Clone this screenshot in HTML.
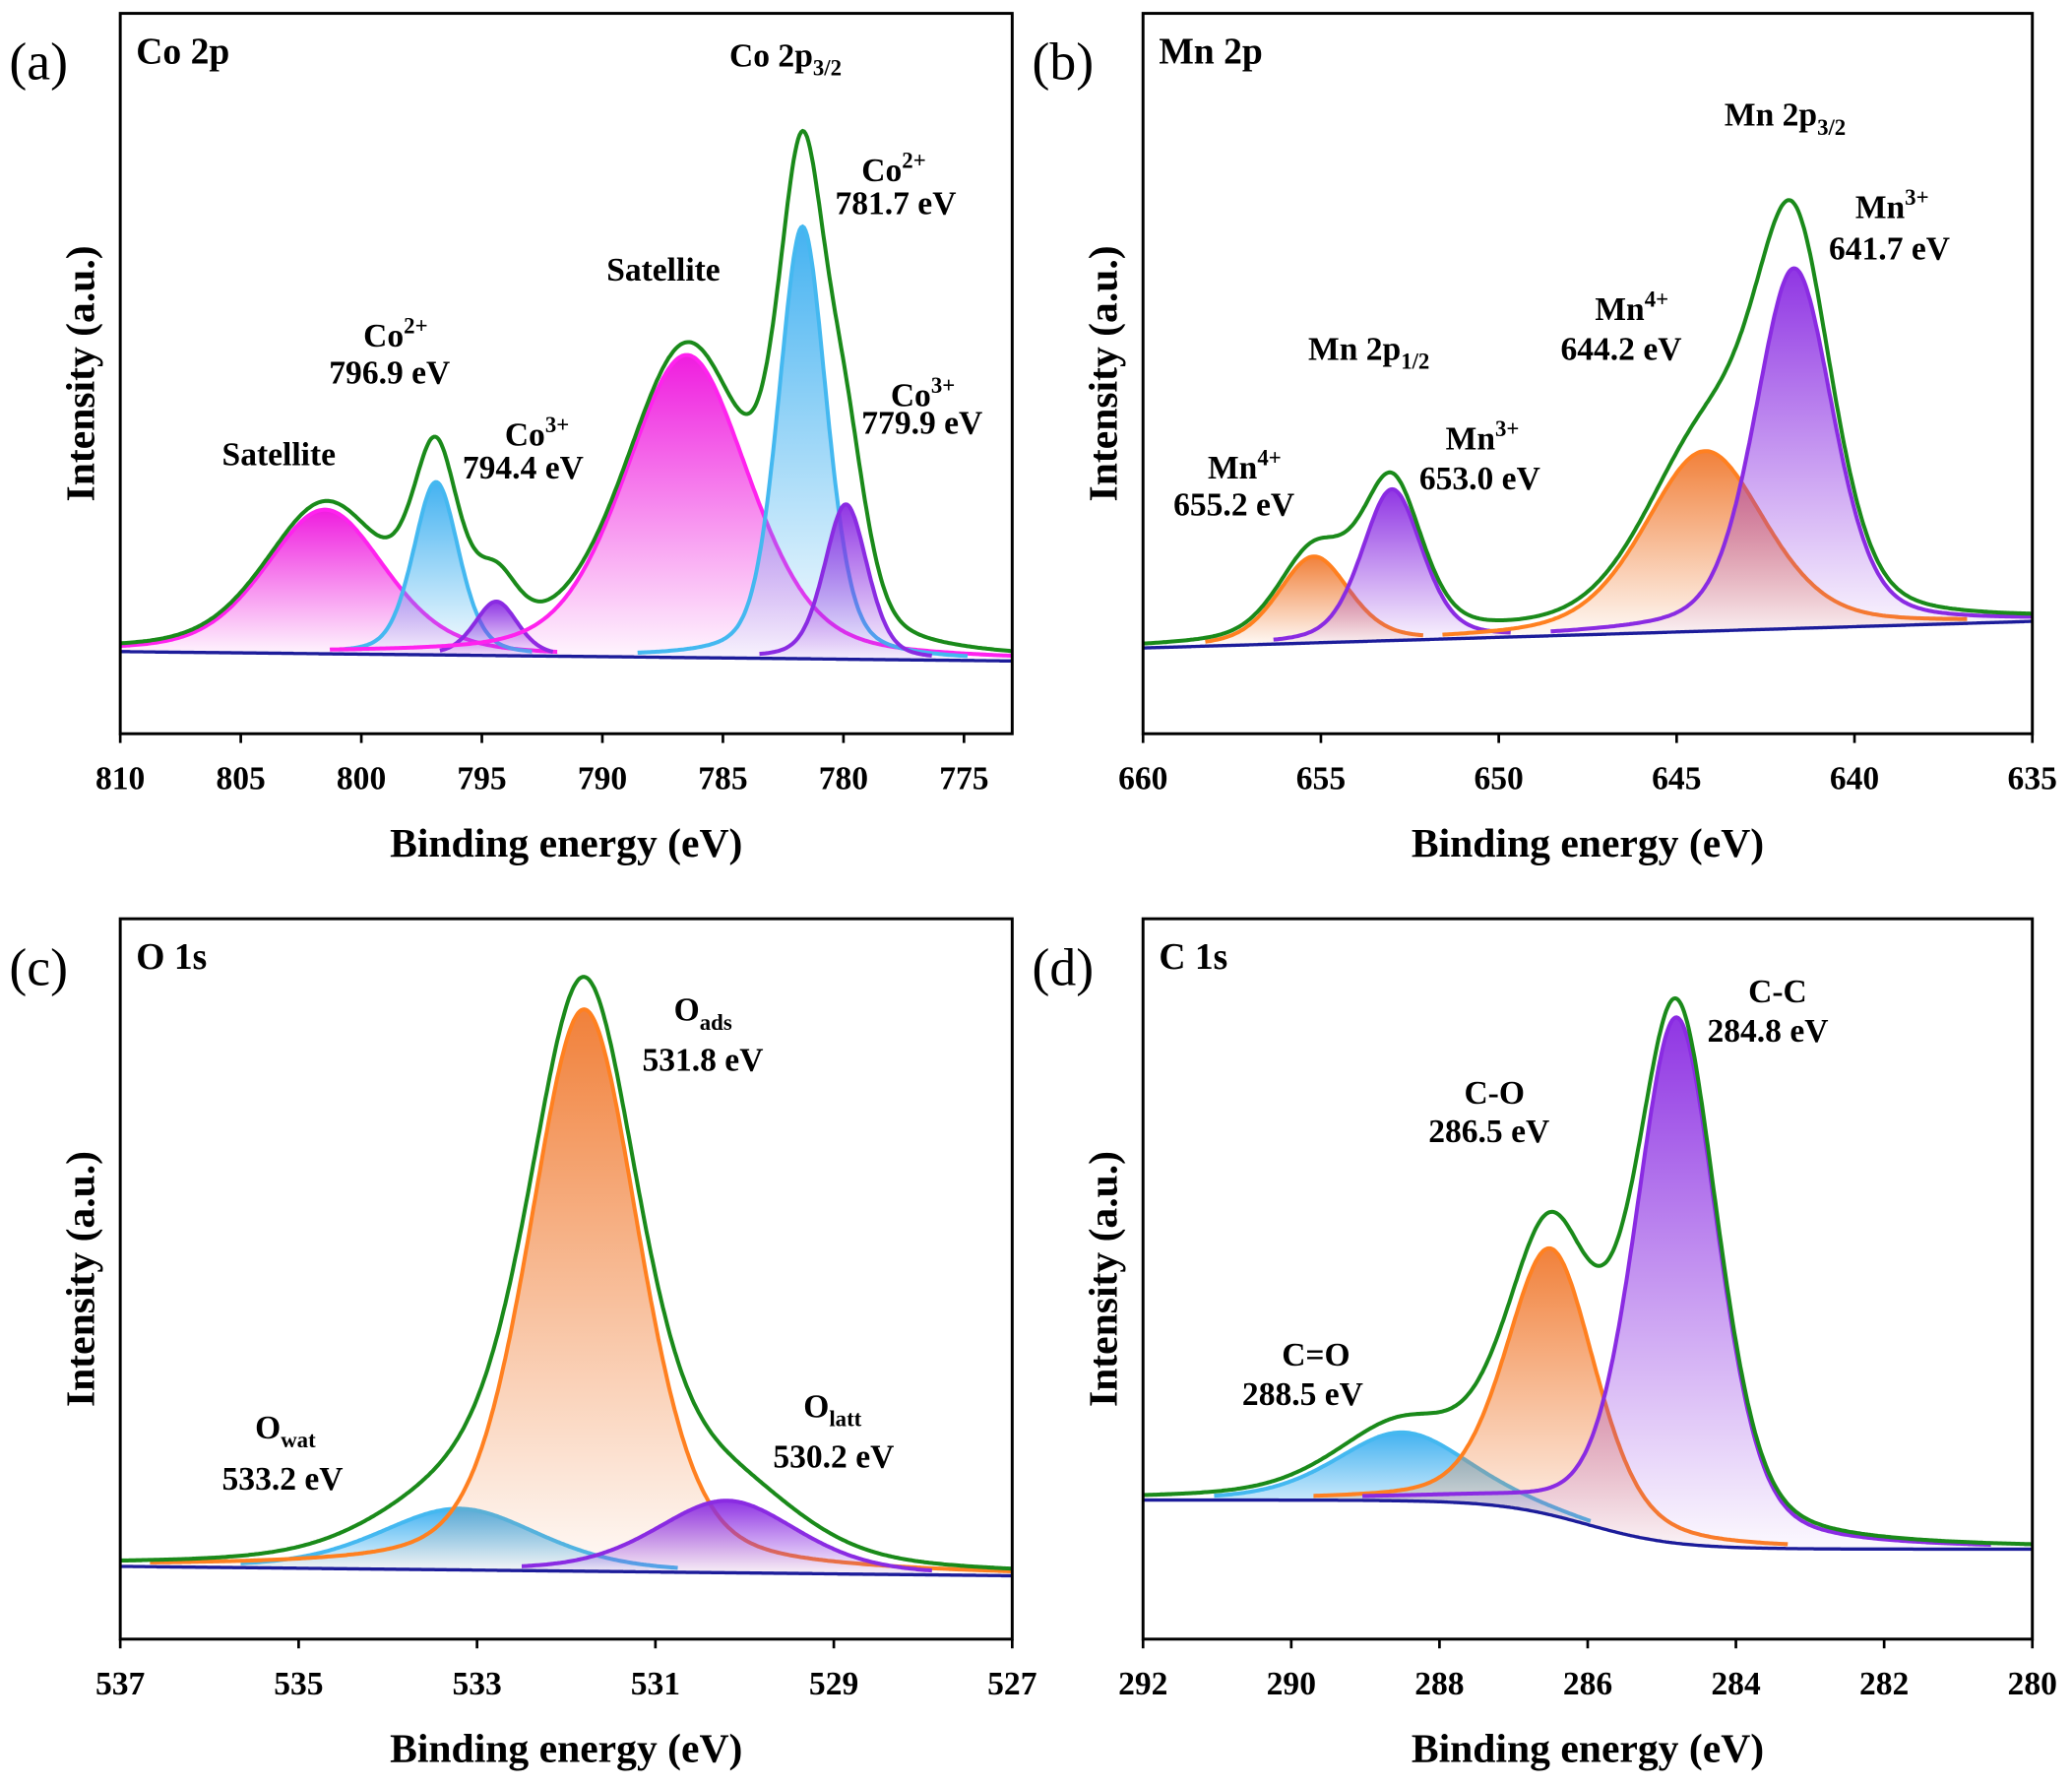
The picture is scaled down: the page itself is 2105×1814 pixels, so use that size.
<!DOCTYPE html>
<html><head><meta charset="utf-8">
<style>
html,body{margin:0;padding:0;background:#fff;}
svg{display:block;}
text{font-family:"Liberation Serif","DejaVu Serif",serif;}
</style></head>
<body>
<svg id="fig" width="2105" height="1814" viewBox="0 0 1568 1351" xmlns="http://www.w3.org/2000/svg">
<defs></defs>
</svg>
<script>
// ---- data (peak parameters) ----
const panelA_centers = [801.5, 796.9, 794.4, 786.5, 781.7, 779.9];
const panelA_heights = [0.20, 0.24, 0.075, 0.42, 0.60, 0.215];
const panelA_sigmas  = [2.5, 0.95, 0.9, 2.6, 1.0, 0.9];
const panelA_colors  = ['mag','blue','purp','mag','blue','purp'];
const panelA_ticks = [810, 805, 800, 795, 790, 785, 780, 775];

const panelB_centers = [655.2, 653.0, 644.2, 641.7];
const panelB_heights = [0.12, 0.21, 0.25, 0.50];
const panelB_sigmas  = [1.0, 0.85, 1.7, 1.1];
const panelB_colors  = ['orange','purp','orange','purp'];
const panelB_ticks = [660, 655, 650, 645, 640, 635];

const panelC_centers = [533.2, 531.8, 530.2];
const panelC_heights = [0.085, 0.78, 0.1];
const panelC_sigmas  = [0.9, 0.62, 0.8];
const panelC_colors  = ['blue','orange','purp'];
const panelC_ticks = [537, 535, 533, 531, 529, 527];

const panelD_centers = [288.5, 286.5, 284.8];
const panelD_heights = [0.095, 0.37, 0.73];
const panelD_sigmas  = [0.9, 0.6, 0.56];
const panelD_colors  = ['blue','orange','purp'];
const panelD_ticks = [292, 290, 288, 286, 284, 282, 280];

const LMIX = 0.35; // Lorentzian fraction of peak shape

const COLORS = {
  mag:{line:'#ff22ee', fill:'#ee11dd'},
  blue:{line:'#44b8f0', fill:'#3aaef0'},
  purp:{line:'#8a2be2', fill:'#8a2be2'},
  orange:{line:'#ff8020', fill:'#f07a30'}
};

const svg = document.getElementById('fig');
const NS = 'http://www.w3.org/2000/svg';
const defs = svg.querySelector('defs');
function mk(tag, attrs, parent){
  const e = document.createElementNS(NS, tag);
  for (const k in attrs) e.setAttribute(k, attrs[k]);
  (parent||svg).appendChild(e);
  return e;
}
let gid = 0;

function panel(cfg){
  const g = mk('g', {});
  
  
  const {x0,x1,y0,y1,emax,emin} = cfg;
  const H = y1 - y0;
  const xs = e => x0 + (emax - e) / (emax - emin) * (x1 - x0);
  const ys = f => y1 - f * H;
  const base = cfg.baseline;
  const N = 600;
  const E = [];
  for (let i = 0; i <= N; i++) E.push(emax - (emax - emin) * i / N);
  const comp = (k, e) => {
    const s = cfg.sigmas[k], d = e - cfg.centers[k];
    const gs = Math.exp(-d * d / (2 * s * s));
    const gam = s * 1.1774;
    const lz = 1 / (1 + (d / gam) * (d / gam));
    return cfg.heights[k] * ((1 - LMIX) * gs + LMIX * lz);
  };
  cfg.centers.forEach((c, k) => {
    const col = COLORS[cfg.colors[k]];
    const id = 'grad' + (gid++);
    const lg = mk('linearGradient', {id:id, x1:0, y1:0, x2:0, y2:1}, defs);
    mk('stop', {offset:'0', 'stop-color':col.fill, 'stop-opacity':'0.95'}, lg);
    mk('stop', {offset:'1', 'stop-color':col.fill, 'stop-opacity':'0.03'}, lg);
    let top = [], bot = [];
    E.forEach(e => {
      const v = comp(k, e);
      if (v > 0.006) { top.push([xs(e), ys(base(e) + v)]); bot.push([xs(e), ys(base(e))]); }
    });
    const d = 'M' + top.map(p => p[0].toFixed(1) + ',' + p[1].toFixed(1)).join('L') + 'L' + bot.reverse().map(p => p[0].toFixed(1) + ',' + p[1].toFixed(1)).join('L') + 'Z';
    const f = mk('path', {d:d, fill:'url(#' + id + ')', stroke:'none'}, g);
    
    
    const ld = 'M' + top.map(p => p[0].toFixed(1) + ',' + p[1].toFixed(1)).join('L');
    const l = mk('path', {d:ld, fill:'none', stroke:col.line, 'stroke-width':3}, g);
    
    
  });
  const bd = 'M' + E.map(e => xs(e).toFixed(1) + ',' + ys(base(e)).toFixed(1)).join('L');
  const bl = mk('path', {d:bd, fill:'none', stroke:'#1c1c9a', 'stroke-width':2.5}, g);
  
  
  const ed = 'M' + E.map(e => {
    let s = base(e); cfg.centers.forEach((c, k) => s += comp(k, e));
    return xs(e).toFixed(1) + ',' + ys(s).toFixed(1);
  }).join('L');
  const el = mk('path', {d:ed, fill:'none', stroke:'#1a8a1a', 'stroke-width':3}, g);
  
  
  const fr = mk('rect', {x:x0, y:y0, width:x1 - x0, height:y1 - y0, fill:'none', stroke:'#000', 'stroke-width':2.2}, g);
  
  
  cfg.ticks.forEach(t => {
    const x = xs(t);
    const tk = mk('line', {x1:x, y1:y1, x2:x, y2:y1 + 7, stroke:'#000', 'stroke-width':2}, g);
    
    
    const tl = mk('text', {x:x, y:y1 + 42, 'text-anchor':'middle', 'font-size':25, 'font-weight':'bold'}, g);
    tl.textContent = t;
    
    
  });
  const xt = mk('text', {x:(x0 + x1) / 2, y:y1 + 93, 'text-anchor':'middle', 'font-size':31, 'font-weight':'bold'}, g);
  xt.textContent = 'Binding energy (eV)';
  
  
  const cy = (y0 + y1) / 2;
  const yt = mk('text', {x:x0 - 20, y:cy, 'text-anchor':'middle', 'font-size':31, 'font-weight':'bold', transform:'rotate(-90 ' + (x0 - 20) + ' ' + cy + ')'}, g);
  yt.textContent = 'Intensity (a.u.)';
  
  
  const pl = mk('text', {x:x0 - 84, y:y0 + 50, 'font-size':40}, g);
  pl.textContent = cfg.letter;
  
  
  const ti = mk('text', {x:x0 + 12, y:y0 + 38, 'font-size':28, 'font-weight':'bold'}, g);
  ti.textContent = cfg.title;
  
  
  cfg.labels.forEach(L => {
    const t = mk('text', {x:L[0], y:L[1], 'font-size':25, 'font-weight':'bold'}, g);
    
    
    if (L[3]) {
      t.appendChild(document.createTextNode(L[2]));
      const ts = mk('tspan', {'font-size':17, dy: L[4] === 'sub' ? 7 : -10}, t);
      ts.textContent = L[3];
    } else t.textContent = L[2];
  });
}

panel({name:'panel-a-co2p', letter:'(a)', title:'Co 2p', x0:91, x1:766, y0:10, y1:555, emax:810, emin:773,
  baseline: e => 0.114 - (810 - e) / 37 * 0.013,
  centers:panelA_centers, heights:panelA_heights, sigmas:panelA_sigmas, colors:panelA_colors, ticks:panelA_ticks,
  labels:[[552,50,'Co 2p','3/2','sub'],[652,137,'Co','2+'],[632,162,'781.7 eV'],[459,212,'Satellite'],
    [275,262,'Co','2+'],[249,290,'796.9 eV'],[382,337,'Co','3+'],[350,362,'794.4 eV'],[168,352,'Satellite'],
    [674,307,'Co','3+'],[652,328,'779.9 eV']]});

panel({name:'panel-b-mn2p', letter:'(b)', title:'Mn 2p', x0:865, x1:1538, y0:10, y1:555, emax:660, emin:635,
  baseline: e => 0.119 + (660 - e) / 25 * 0.037,
  centers:panelB_centers, heights:panelB_heights, sigmas:panelB_sigmas, colors:panelB_colors, ticks:panelB_ticks,
  labels:[[1305,95,'Mn 2p','3/2','sub'],[1404,165,'Mn','3+'],[1384,196,'641.7 eV'],[1207,242,'Mn','4+'],
    [1181,272,'644.2 eV'],[990,272,'Mn 2p','1/2','sub'],[1094,340,'Mn','3+'],[1074,370,'653.0 eV'],
    [914,362,'Mn','4+'],[888,390,'655.2 eV']]});

panel({name:'panel-c-o1s', letter:'(c)', title:'O 1s', x0:91, x1:766, y0:695, y1:1240, emax:537, emin:527,
  baseline: e => 0.101 - (537 - e) / 10 * 0.013,
  centers:panelC_centers, heights:panelC_heights, sigmas:panelC_sigmas, colors:panelC_colors, ticks:panelC_ticks,
  labels:[[510,772,'O','ads','sub'],[486,810,'531.8 eV'],[193,1088,'O','wat','sub'],[168,1127,'533.2 eV'],
    [608,1072,'O','latt','sub'],[585,1110,'530.2 eV']]});

panel({name:'panel-d-c1s', letter:'(d)', title:'C 1s', x0:865, x1:1538, y0:695, y1:1240, emax:292, emin:280,
  baseline: e => 0.125 + 0.068 / (1 + Math.exp(-(e - 286.0) / 0.6)),
  centers:panelD_centers, heights:panelD_heights, sigmas:panelD_sigmas, colors:panelD_colors, ticks:panelD_ticks,
  labels:[[1323,758,'C-C'],[1292,788,'284.8 eV'],[1108,835,'C-O'],[1081,864,'286.5 eV'],
    [970,1033,'C=O'],[940,1063,'288.5 eV']]});
</script>
</body></html>
